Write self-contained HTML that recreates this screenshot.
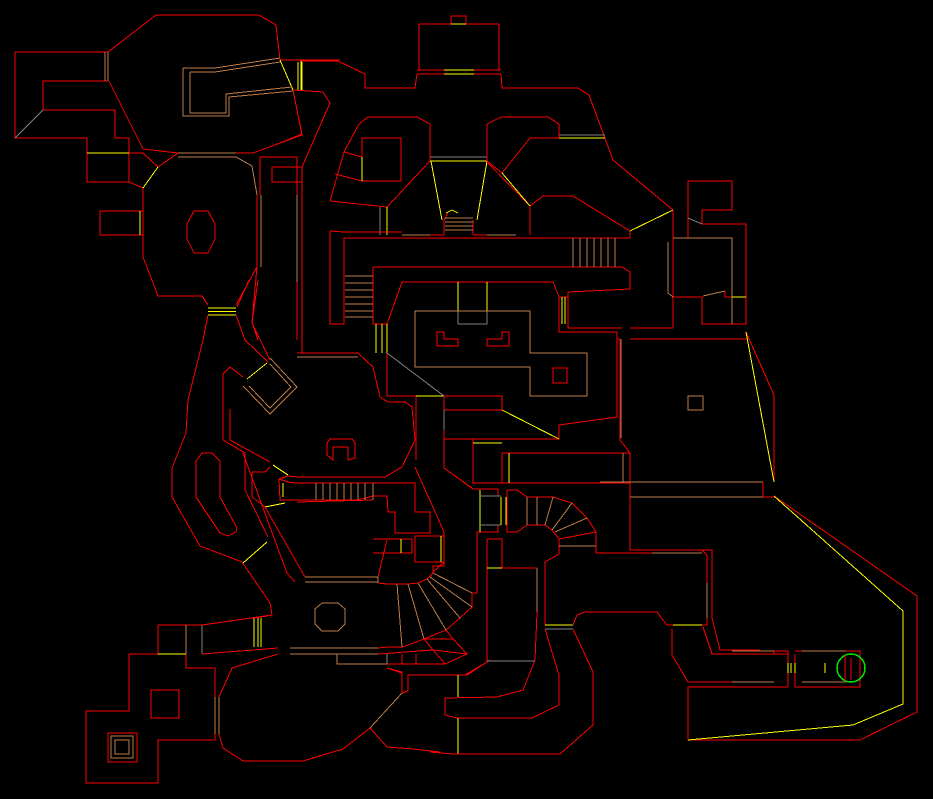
<!DOCTYPE html>
<html><head><meta charset="utf-8"><style>
html,body{margin:0;padding:0;background:#000;}
svg{display:block}
path,circle{shape-rendering:crispEdges}
.r{stroke:#fc0000;fill:none;stroke-width:1}
.o{stroke:#bc7c48;fill:none;stroke-width:1}
.y{stroke:#fcfc00;fill:none;stroke-width:1}
.g{stroke:#808080;fill:none;stroke-width:1}
</style></head><body>
<svg width="933" height="799" viewBox="0 0 933 799" xmlns="http://www.w3.org/2000/svg">
<rect width="933" height="799" fill="#000"/>
<path class="r" d="M15,52H108M15,52V138H87V182H129V138H115V110H43V81H108M129,153H143L158,167M129,182L143,188V257L158,296H202L208,305M158,167L178,153M143,149L178,153M143,149L109,81"/>
<path class="g" d="M43,110L15,138"/>
<path class="y" d="M87,153H129M143,188L158,167"/>
<path class="o" d="M105,52V81M108,52V81"/>
<path class="r" d="M108,52L156,15H259L276,25L280,60H340M236,153H253L302,135L293,90L323,92L330,103L302,167"/>
<path class="o" d="M178,153H236M178,157H236M236,157L252,166L257,195"/>
<path class="y" d="M280,60L293,90M298,62V90M302,62V90"/>
<path class="o" d="M183,68H215L280,58M190,72H215L280,62M183,68V116H229V97L293,91M190,72V113H226V94L292,87"/>
<path class="r" d="M236,305L257,267V195M194,211H208L215,224V239L208,253H194L187,239V224Z"/>
<path class="o" d="M261,195V267"/>
<path class="r" d="M100,211H143V235H100Z"/>
<path class="y" d="M140,211V235M208,308H236M208,311.5H236M208,315H236"/>
<path class="r" d="M260,157H297V340M260,157V195M272,167H302V182H272ZM302,167V353M257,267L252,322L258,340"/>
<path class="o" d="M297,195V282"/>
<path class="r" d="M208,315L203,340L188,400L186,433L172,468V497L200,546L242,562L270,603L272,615L255,618M236,315L245,340L268,362M249,280L237,307M258,280L252,323L270,360"/>
<path class="r" d="M202,453H212L220,461V497L237,528L236,532L228,536L220,533L196,497V461Z"/>
<path class="r" d="M223,374V440M230,367L223,374M230,367L243,377M223,440L245,453V490L268,537M230,409V440L270,462M252,472H265L270,467M252,472V497L265,507"/>
<path class="y" d="M243,563L267,542M247,379L267,363M265,507L285,503M273,465L288,475"/>
<path class="o" d="M270,358L297,387L270,414L243,386M270,364L291,387L270,408L249,386"/>
<path class="r" d="M300,61H338L365,74V88H415L417,74M419,24V70M499,24V70M419,24H499M417,70H501M417,74H501M501,74L502,88H578L589,95L613,160L673,210M451,16H466V24M451,16V24"/>
<path class="y" d="M444,70H474M444,74H474M451,24H466M301,61V90"/>
<path class="g" d="M559,135H605"/>
<path class="y" d="M559,138H605"/>
<path class="r" d="M295,100L302,134L280,143"/>
<path class="r" d="M359,124L368,117H417L430,124V161M344,152L359,124M330,201L344,152M330,201L387,207L430,161M344,152L362,157M335,174L362,181M362,138H401V181H362Z"/>
<path class="y" d="M362,157V181"/>
<path class="g" d="M430,157H487M380,207V235"/>
<path class="y" d="M430,161H487M431,161L442,220M487,161L477,220M387,207V235M446,213L452,210L458,213"/>
<path class="r" d="M487,124L501,117H548L559,124V138M487,124V161L502,173L530,138H559M487,162L530,206L543,196H573L630,231V238M530,206V235"/>
<path class="y" d="M502,173L530,206M630,231L673,210"/>
<path class="r" d="M330,231L344,232H402M330,231V324H344V238H630M430,235H444V220L448,213M473,235H487M473,220V235M373,267H622L630,272V289L568,292V297H559L553,282H402L387,324H373V267"/>
<path class="o" d="M402,235H430M487,235H516M445,218H473M445,222H473M445,226H473M445,230H473M345,276H373M345,283H373M345,290H373M345,297H373M345,304H373M345,311H373M345,317H373M573,238V267M580,238V267M587,238V267M594,238V267M601,238V267M608,238V267M615,238V267"/>
<path class="y" d="M376,324V353M382,324V353M387,324V353M458,282V311M487,282V311M562,297V324M565,297V324"/>
<path class="g" d="M458,324H487V311M458,324V311"/>
<path class="o" d="M415,311H530V353H587V396H530V367H415Z"/>
<path class="r" d="M437,332H444V339H458V346H437ZM487,339H502V332H509V346H487ZM553,368H567V383H553Z"/>
<path class="r" d="M559,297V332H617V417L559,425V439H444M568,297V328H622M620,339V440L630,453V550H712V618M617,332V339H620M630,339H746M630,328H673M444,396H502V410H444M387,353V396H416M416,396V460M444,397V468L472,488"/>
<path class="o" d="M621,339V438M297,353H358M297,357H358"/>
<path class="y" d="M502,410L559,439M416,396H444M473,443H502"/>
<path class="g" d="M387,353L444,396M444,410V439"/>
<path class="r" d="M673,210V328M673,238H688V181H732V210H702V224H746V324H702V297H673M746,332L774,395V482M725,291V297H746M763,482V497H775"/>
<path class="g" d="M688,218L702,224"/>
<path class="o" d="M673,238H732V324M668,242V293L673,297M703,296L725,291M688,396H703V410H688ZM600,482H763M630,497H763M623,453V482"/>
<path class="y" d="M732,297H746M746,332L774,482"/>
<path class="r" d="M297,353L358,353L373,367L380,397L388,402H405L412,407L415,440L402,467L385,477H298L288,476L279,479M327,455V443L330,439H352L355,443V458L348,460V447H333V460Z"/>
<path class="r" d="M279,479L280,500H297L358,500L373,496H387L388,512H395V533H430V512H415V483H295L288,482L279,479M297,502L373,500"/>
<path class="o" d="M316,483V500M323,483V500M330,483V500M337,483V500M344,483V500M351,483V500M358,483V500M365,483V500M373,483V500"/>
<path class="y" d="M283,483V497"/>
<path class="r" d="M265,507L305,577M243,453L270,527L287,573L295,582M305,577H378L387,540M373,539H412V553H373M415,536H444V562H415ZM415,467L444,532V562L433,572M444,468V430M444,439H558"/>
<path class="o" d="M305,577H378M305,582H378M378,577V583"/>
<path class="y" d="M401,539V553M441,536V562"/>
<path class="r" d="M444,468L473,489H498V496M473,439V483H630M502,453H630M502,453V483"/>
<path class="y" d="M509,453V483M473,443H502"/>
<path class="o" d="M623,453V483"/>
<path class="r" d="M378,583L387,584L408,584L418,583L427,579L433,573V566H444V560M472,593V607L460,618L446,630L424,639L403,647L388,647L378,648M472,593H477V532H498V525M477,560V593"/>
<path class="o" d="M397,584L402,647M408,584L424,639M418,583L446,630M427,579L460,618M430,577L472,607M433,573L472,593"/>
<path class="r" d="M424,639L433,650L445,664M446,630L453,639L467,654L445,664M424,639H453M378,654L433,650L467,654M387,664H445M402,654V664M416,654V664M490,660L467,675H408V680M387,668L402,672V680"/>
<path class="o" d="M322,603H338L345,609V624L338,631H322L315,624V609ZM290,648H378M290,654H378M337,654V664H387"/>
<path class="g" d="M387,654V664"/>
<path class="y" d="M480,490V532M501,497V525M506,497V525"/>
<path class="g" d="M480,496H501M480,525H501"/>
<path class="r" d="M507,490H517L527,497H553L572,503L587,518L596,532V553H652M507,490V532H517L527,525H545L552,530L559,539V546M559,539L596,532M559,546V554L545,562V625M487,539H502V568H537V612L535,660L523,690L497,697L445,698V715L457,718H532L559,705V675L545,629M487,539V662L465,675H430"/>
<path class="o" d="M527,497V525M537,497V525M553,497L545,525M572,503L552,530M587,518L555,532M559,546H596M652,553H702M537,568V612"/>
<path class="g" d="M487,661H535M545,629H573"/>
<path class="y" d="M487,568H502M545,625H573M458,675V697M458,718V754"/>
<path class="r" d="M573,625L577,615L585,612H657L663,620L667,625H702L707,625V555L702,550M573,629L593,672V725L560,754H453L430,752"/>
<path class="y" d="M673,625H702"/>
<path class="o" d="M707,583V618"/>
<path class="r" d="M712,618L720,650H760M703,627L712,654H788M672,629V655L688,682H760M774,496L917,596V712L860,740H688V687H788M732,651H774V654M774,651H788V654M788,654V687M795,654V687M795,651H860V687H795"/>
<path class="o" d="M732,651H774M802,651H846M732,682H774M802,682H846"/>
<path class="y" d="M774,496L903,611V704L853,725L688,740M788,663V673M795,663V673M791,663V673M825,663V673"/>
<circle cx="851" cy="668" r="14" fill="none" stroke="#00e000" stroke-width="1.6"/>
<path class="r" d="M845,655V681M851,658V680"/>
<path class="r" d="M158,625H202L272,615M158,654V625M202,654L278,648M129,654H158M129,654V711H86V783H158V740H215V668H186V654M219,697L232,668L278,654"/>
<path class="o" d="M186,625V654M215,697V734M219,697V734"/>
<path class="g" d="M202,625V654"/>
<path class="y" d="M158,654H186M254,618V647M258,618V647M261,618V647"/>
<path class="r" d="M151,690H179V718H151ZM108,733H137V762H108Z"/>
<path class="o" d="M111,736H133V758H111ZM115,740H129V754H115Z"/>
<path class="r" d="M219,734L223,748L243,761H303L343,749L370,728L387,747L413,749L440,752M387,668L402,673V693L408,691V675H440"/>
<path class="o" d="M402,693L370,728"/>
</svg>
</body></html>
